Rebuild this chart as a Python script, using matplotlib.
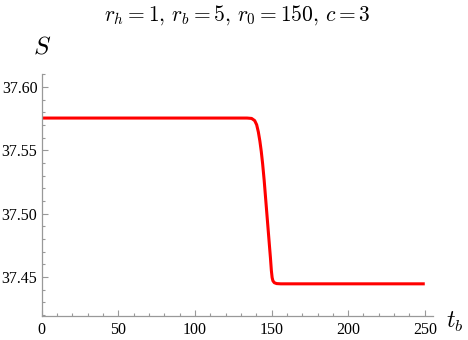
import matplotlib
matplotlib.use("Agg")
from matplotlib import pyplot as plt
from matplotlib.ticker import MultipleLocator, FormatStrFormatter

# values
t_b = [0, 134, 137, 139, 140.3, 141.4, 142.4, 143.3, 144.2, 145.2, 146.4, 147.6,
       148.6, 149.3, 149.9, 150.4, 150.9, 151.8, 153.3, 156, 250]
S = [37.5755, 37.5755, 37.5752, 37.5735, 37.5702, 37.5645, 37.5573, 37.5492, 37.5393,
     37.5263, 37.5083, 37.4903, 37.4753, 37.465, 37.455, 37.4495, 37.4470, 37.4455,
     37.4448, 37.4446, 37.4446]

x_major = 50
x_minor = 10
y_major = 0.05
y_minor = 0.01

plt.rcParams['mathtext.fontset'] = 'cm'

fig = plt.figure(figsize=(4.68, 3.4), dpi=100)
ax = fig.add_axes([0.089, 0.0706, 0.836, 0.7118])

ax.plot(t_b, S, color='#ff0000', lw=2.2, solid_capstyle='butt', solid_joinstyle='round')

ax.set_xlim(0, 255.3)
ax.set_ylim(37.4192, 37.6103)

for s in ['top', 'right']:
    ax.spines[s].set_visible(False)
for s in ['left', 'bottom']:
    ax.spines[s].set_color('#999999')
    ax.spines[s].set_linewidth(0.9)

ax.xaxis.set_major_locator(MultipleLocator(x_major))
ax.xaxis.set_minor_locator(MultipleLocator(x_minor))
ax.yaxis.set_major_locator(MultipleLocator(y_major))
ax.yaxis.set_minor_locator(MultipleLocator(y_minor))
ax.yaxis.set_major_formatter(FormatStrFormatter('%.2f'))

ax.tick_params(which='both', direction='in', color='#999999', width=0.8)
ax.tick_params(which='major', length=4, pad=4)
ax.tick_params(which='minor', length=2.3)
ax.tick_params(axis='y', which='major', pad=3)
for lab in ax.get_xticklabels() + ax.get_yticklabels():
    lab.set_fontfamily('Liberation Serif')
    lab.set_fontsize(11.5)

fig.text(0.506, 0.955, r'$r_h=1,\, r_b=5,\, r_0=150,\, c=3$', ha='center', va='center', fontsize=15.5)
fig.text(0.09, 0.862, r'$S$', ha='center', va='center', fontsize=18)
fig.text(0.972, 0.053, r'$t_b$', ha='center', va='center', fontsize=17)

fig.savefig('out.png', dpi=100)
